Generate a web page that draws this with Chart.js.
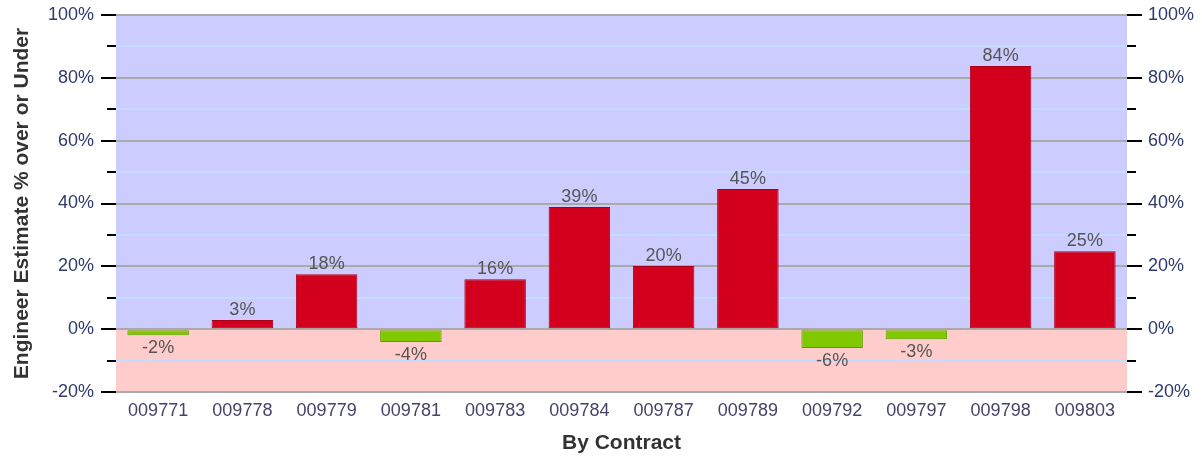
<!DOCTYPE html>
<html>
<head>
<meta charset="utf-8">
<script src="https://cdn.jsdelivr.net/npm/chart.js@4/dist/chart.umd.min.js"></script>
<style>
  body { margin: 0; background: #fff; }
  #wrap { width: 1202px; height: 456px; position: relative; }
</style>
</head>
<body>
<div id="wrap"><canvas id="barChart"></canvas></div>
<script>
// datos de la gráfica
const contracts = ['009771', '009778', '009779', '009781', '009783', '009784',
                   '009787', '009789', '009792', '009797', '009798', '009803'];
const pctOver = [-1.9, 2.9, 17.5, -4.1, 15.9, 38.9, 20.1, 44.6, -6.0, -3.2, 83.8, 24.8];
const yMin = -20;
const yMax = 100;

const FONT = "'Liberation Sans', Arial, sans-serif";

// fondo lila arriba de 0 y rosa abajo
const bgPlugin = {
    id: 'bgBands',
    beforeDraw(chart) {
        const { ctx, chartArea: a, scales } = chart;
        const y0 = scales.y.getPixelForValue(0);
        ctx.save();
        ctx.fillStyle = '#ccccff';
        ctx.fillRect(a.left, a.top, a.right - a.left, y0 - a.top);
        ctx.fillStyle = '#ffcccc';
        ctx.fillRect(a.left, y0, a.right - a.left, a.bottom - y0);
        ctx.restore();
    }
};

// marcas de los ejes (largas en 20, cortas en 10) y etiquetas de las barras
const marksPlugin = {
    id: 'marks',
    afterDatasetsDraw(chart) {
        const { ctx, chartArea: a, scales } = chart;
        ctx.save();
        ctx.strokeStyle = '#000';
        ctx.lineWidth = 2;
        scales.y.ticks.forEach(t => {
            const y = Math.round(scales.y.getPixelForValue(t.value));
            const len = t.value % 20 === 0 ? 15 : 9;
            ctx.beginPath();
            ctx.moveTo(a.left - len, y);
            ctx.lineTo(a.left, y);
            ctx.moveTo(a.right, y);
            ctx.lineTo(a.right + len, y);
            ctx.stroke();
        });

        const meta = chart.getDatasetMeta(0);
        ctx.fillStyle = '#555555';
        ctx.font = '18px ' + FONT;
        ctx.textAlign = 'center';
        meta.data.forEach((bar, i) => {
            const v = pctOver[i];
            const txt = Math.round(v) + '%';
            if (v >= 0) {
                ctx.textBaseline = 'bottom';
                ctx.fillText(txt, bar.x, bar.y - 1);
            } else {
                ctx.textBaseline = 'top';
                ctx.fillText(txt, bar.x, bar.y + 4);
            }
        });
        ctx.restore();
    }
};

// sin relleno extra arriba/abajo para los ejes verticales
function fixVertical(width) {
    return function (scale) {
        scale.width = width;
        scale.paddingTop = 0;
        scale.paddingBottom = 0;
    };
}

const ctx = document.getElementById('barChart').getContext('2d');
const myChart = new Chart(ctx, {
    type: 'bar',
    data: {
        labels: contracts,
        datasets: [{
            data: pctOver,
            backgroundColor: pctOver.map(v => v >= 0 ? '#d2001c' : '#80c800'),
            borderColor: pctOver.map(v => v >= 0 ? '#a8001a' : '#5f9e00'),
            borderWidth: 1,
            borderSkipped: false,
            categoryPercentage: 1,
            barPercentage: 0.73
        }]
    },
    options: {
        responsive: true,
        maintainAspectRatio: false,
        animation: false,
        layout: { padding: { top: 15, right: 0, bottom: 0, left: 0 } },
        plugins: {
            legend: { display: false },
            tooltip: { enabled: false }
        },
        scales: {
            x: {
                grid: { display: false, drawTicks: false },
                border: { display: false },
                ticks: { color: '#44446a', font: { size: 18, family: FONT }, padding: 8, maxRotation: 0 },
                title: {
                    display: true,
                    text: 'By Contract',
                    color: '#333333',
                    font: { size: 21, weight: 'bold', family: FONT },
                    padding: { top: 4, bottom: 0 }
                },
                afterFit(scale) { scale.height = 64; }
            },
            y: {
                position: 'left',
                min: yMin,
                max: yMax,
                border: { display: false },
                grid: {
                    drawTicks: false,
                    lineWidth: 2,
                    color: c => c.tick.value % 20 === 0 ? '#aaaaaa' : '#c4dcff'
                },
                ticks: {
                    stepSize: 10,
                    padding: 22,
                    color: '#2e3a6e',
                    font: { size: 18, family: FONT },
                    callback: v => v % 20 === 0 ? v + '%' : ''
                },
                title: {
                    display: true,
                    text: 'Engineer Estimate % over or Under',
                    color: '#333333',
                    font: { size: 21, weight: 'bold', family: FONT },
                    padding: { top: 10, bottom: 0 }
                },
                afterFit: fixVertical(116)
            },
            y2: {
                position: 'right',
                min: yMin,
                max: yMax,
                border: { display: false },
                grid: { display: false, drawTicks: false },
                ticks: {
                    stepSize: 10,
                    padding: 21,
                    color: '#2e3a6e',
                    font: { size: 18, family: FONT },
                    callback: v => v % 20 === 0 ? v + '%' : ''
                },
                afterFit: fixVertical(75)
            }
        }
    },
    plugins: [bgPlugin, marksPlugin]
});
</script>
</body>
</html>
